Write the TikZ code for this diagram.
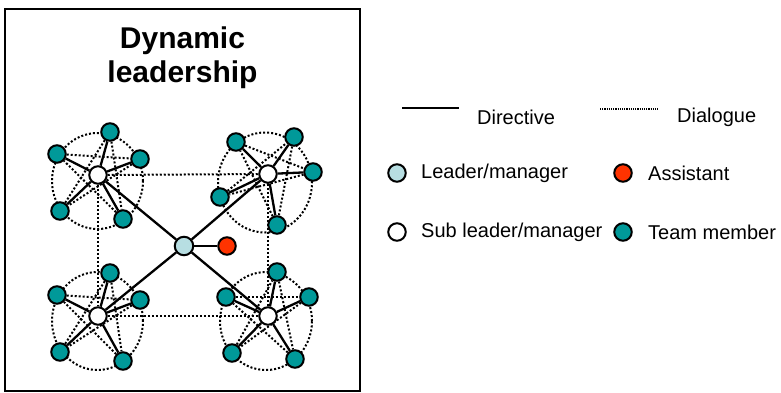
\documentclass[tikz,border=0pt]{standalone}
\usepackage{fontspec}
\setmainfont{Liberation Sans}
\usetikzlibrary{backgrounds}

\definecolor{teamcol}{RGB}{0,153,153}
\definecolor{leadcol}{RGB}{183,222,226}
\definecolor{asstcol}{RGB}{255,51,0}

\tikzset{
  member/.style={circle, draw, line width=2pt, fill=teamcol, inner sep=0pt, minimum size=17.5pt},
  sub/.style={circle, draw, line width=2pt, fill=white, inner sep=0pt, minimum size=17.5pt},
  boss/.style={circle, draw, line width=2pt, fill=leadcol, inner sep=0pt, minimum size=18.5pt},
  helper/.style={circle, draw, line width=2pt, fill=asstcol, inner sep=0pt, minimum size=17.5pt},
  directive/.style={line width=2.3pt},
  dialogue/.style={line width=2pt, dash pattern=on 2pt off 2pt},
  legend/.style={anchor=west, inner sep=0pt, font=\fontsize{20}{24}\selectfont}
}

\begin{document}
\begin{tikzpicture}[x=1pt, y=-1pt]
      \useasboundingbox (0,0) rectangle (781,392);
      \draw[line width=2.5pt] (5,9) rectangle (360,391);

      \node[anchor=base, align=center, font=\bfseries\fontsize{30}{34}\selectfont] (title) at (182.5,82) {Dynamic\\leadership};

      % leader and assistant
      \node[boss] (L) at (184,246) {};
      \node[helper] (A) at (227,246) {};

      % sub leaders
      \node[sub] (a) at (98,175) {};
      \node[sub] (b) at (268,174) {};
      \node[sub] (c) at (98,316) {};
      \node[sub] (d) at (268,316) {};

      % team members, clockwise round each sub leader
      \node[member] (a1) at (110,132) {};
      \node[member] (a2) at (140,159) {};
      \node[member] (a3) at (123,219) {};
      \node[member] (a4) at (60,211) {};
      \node[member] (a5) at (57,154) {};

      \node[member] (b1) at (236,142) {};
      \node[member] (b2) at (294,137) {};
      \node[member] (b3) at (313,172) {};
      \node[member] (b4) at (277,225) {};
      \node[member] (b5) at (220,197) {};

      \node[member] (c1) at (110,273) {};
      \node[member] (c2) at (140,300) {};
      \node[member] (c3) at (123,361) {};
      \node[member] (c4) at (60,352) {};
      \node[member] (c5) at (57,295) {};

      \node[member] (d1) at (277,272) {};
      \node[member] (d2) at (309,297) {};
      \node[member] (d3) at (295,359) {};
      \node[member] (d4) at (232,353) {};
      \node[member] (d5) at (226,297) {};

      \begin{pgfonlayer}{background}
        \draw[dialogue] (97.5,181) ellipse [x radius=45.5pt, y radius=48pt];
        \draw[dialogue] (265,182.5) ellipse [x radius=47pt, y radius=50pt];
        \draw[dialogue] (97.5,321) ellipse [x radius=45.5pt, y radius=49pt];
        \draw[dialogue] (266,321) ellipse [x radius=46pt, y radius=49pt];

        \draw[dialogue] (a) -- (b);
        \draw[dialogue] (c) -- (d);
        \draw[dialogue] (a) -- (c);
        \draw[dialogue] (b) -- (d);

        \foreach \g in {a,b,c,d} {
          \foreach \i/\j in {1/3,2/4,3/5,4/1,5/2}
            \draw[dialogue] (\g\i) -- (\g\j);
          \foreach \i in {1,...,5}
            \draw[directive] (\g) -- (\g\i);
          \draw[directive] (L) -- (\g);
        }
        \draw[directive] (L) -- (A);
      \end{pgfonlayer}

      % legend
      \coordinate (dirA) at (402,108);
      \coordinate (dirB) at (459,108);
      \coordinate (dlgA) at (600,109);
      \coordinate (dlgB) at (658,109);
      \draw[directive] (dirA) -- (dirB);
      \draw[line width=1.1pt, dash pattern=on 1.1pt off 1.1pt] (dlgA) -- (dlgB);
      \node[legend] (dirtext) at (477,117) {Directive};
      \node[legend] (dlgtext) at (677,117) {Dialogue};

      \node[boss, minimum size=17.5pt] (keyL) at (397,173) {};
      \node[legend] (keyLtext) at (421,173) {Leader/manager};
      \node[helper] (keyA) at (623,173) {};
      \node[legend] (keyAtext) at (648,173) {Assistant};
      \node[sub] (keyS) at (397,232) {};
      \node[legend] (keyStext) at (421,232) {Sub leader/manager};
      \node[member] (keyT) at (623,232) {};
      \node[legend] (keyTtext) at (648,232) {Team member};
    \end{tikzpicture}
\end{document}
